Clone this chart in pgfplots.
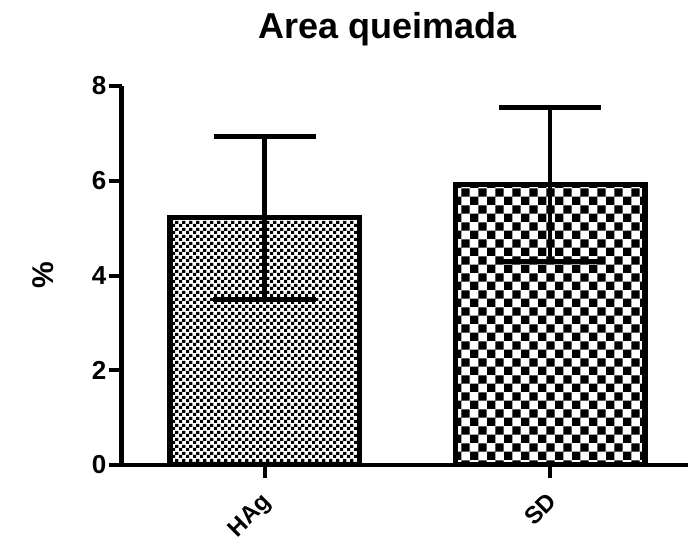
\documentclass[border=0pt]{standalone}
\usepackage{fontspec}
\setmainfont{Liberation Sans}
\usepackage{pgfplots}
\pgfplotsset{compat=1.18}
\usetikzlibrary{patterns}

% checkerboards: fine one for HAg, coarse one for SD
\pgfdeclarepatternformonly{checkfine}{\pgfqpoint{0pt}{0pt}}{\pgfqpoint{6.6pt}{6.6pt}}{\pgfqpoint{6.6pt}{6.6pt}}{
  \pgfpathrectangle{\pgfqpoint{0pt}{0pt}}{\pgfqpoint{3.3pt}{3.3pt}}
  \pgfpathrectangle{\pgfqpoint{3.3pt}{3.3pt}}{\pgfqpoint{3.3pt}{3.3pt}}
  \pgfusepath{fill}
}
\pgfdeclarepatternformonly{checkcoarse}{\pgfqpoint{0pt}{0pt}}{\pgfqpoint{16.8pt}{16.8pt}}{\pgfqpoint{16.8pt}{16.8pt}}{
  \pgfpathrectangle{\pgfqpoint{0pt}{0pt}}{\pgfqpoint{8.4pt}{8.4pt}}
  \pgfpathrectangle{\pgfqpoint{8.4pt}{8.4pt}}{\pgfqpoint{8.4pt}{8.4pt}}
  \pgfusepath{fill}
}

\begin{document}
\begin{tikzpicture}
\useasboundingbox (0,0) rectangle (688pt,544pt);
\clip (0,0) rectangle (688pt,544pt);
\begin{axis}[
  at={(121.75pt,79pt)}, anchor=south west,
  scale only axis, width=571pt, height=379pt,
  xmin=-0.5, xmax=1.5, ymin=0, ymax=8,
  axis x line*=bottom, axis y line*=left,
  axis line style={line width=4.5pt},
  axis on top,
  ytick={0,2,4,6,8},
  xtick={0,1}, xticklabels={HAg, SD},
  tick align=outside, major tick length=13pt,
  tick style={line width=4pt, black},
  /pgf/number format/assume math mode=true,
  ticklabel style={font=\fontsize{26}{26}\selectfont\bfseries},
  yticklabel style={xshift=1pt},
  xticklabel style={font=\fontsize{24}{24}\selectfont\bfseries, rotate=45, anchor=north east, yshift=-3pt, xshift=-9pt},
  title={Area queimada},
  title style={font=\fontsize{36}{36}\selectfont\bfseries, at={(axis description cs:0.466,1)}, anchor=base, yshift=42pt},
  ylabel={\%},
  ylabel style={font=\fontsize{30}{30}\selectfont\bfseries, at={(axis description cs:-0.138,0.5)}, anchor=center},
  ybar, bar width=189.5pt,
  error bars/y dir=both, error bars/y explicit,
  error bars/error mark=-,
  error bars/error bar style={line width=4.5pt, black},
  error bars/error mark options={rotate=90, line width=5pt, mark size=51pt, black},
]
\addplot[bar shift=0pt, draw=black, line width=5.5pt, pattern=checkfine, pattern color=black]
  coordinates {(0,5.22) +- (0,1.72)};
\addplot[bar shift=0pt, draw=black, line width=5.5pt, pattern=checkcoarse, pattern color=black]
  coordinates {(1,5.92) +- (0,1.63)};
\end{axis}
\end{tikzpicture}
\end{document}
